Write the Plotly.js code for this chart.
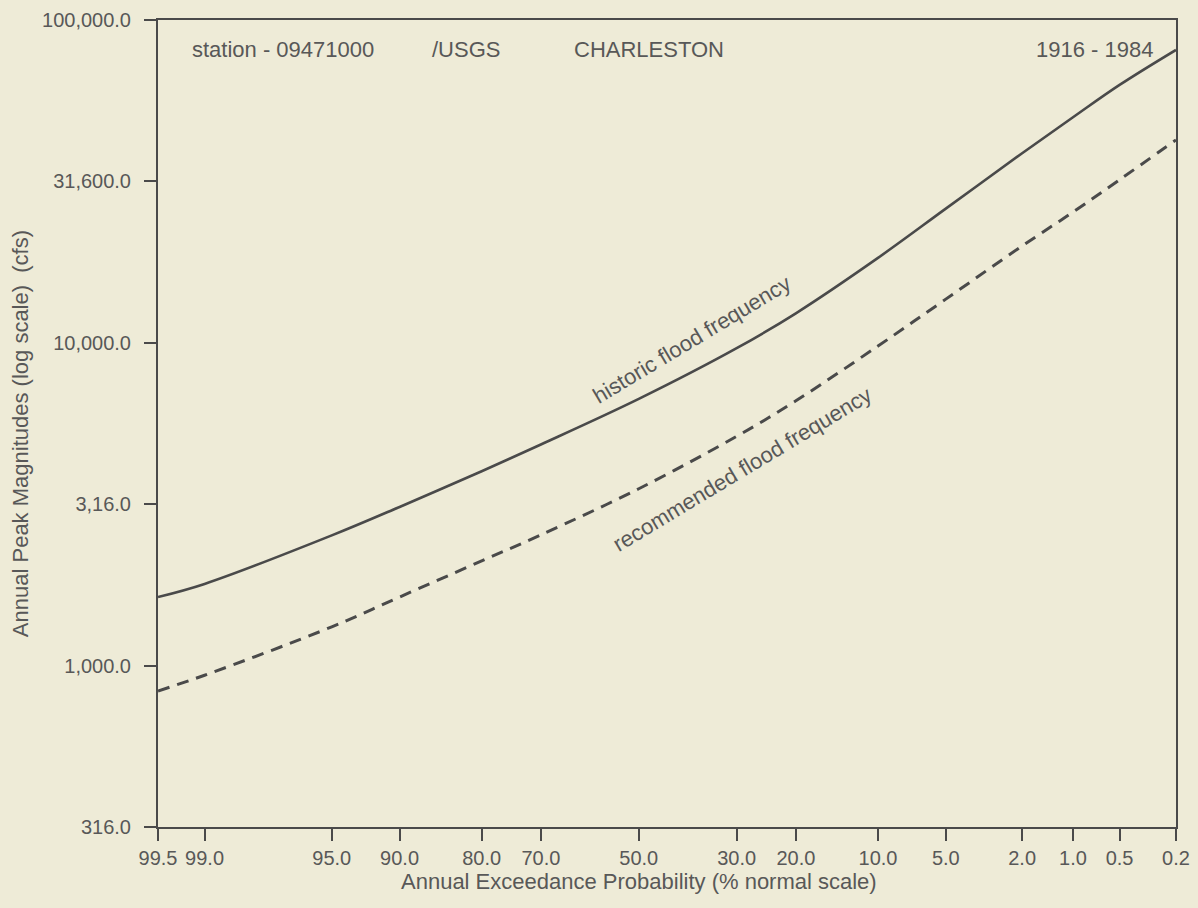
<!DOCTYPE html>
<html>
<head>
<meta charset="utf-8">
<script src="https://cdn.plot.ly/plotly-3.0.1.min.js"></script>
<style>
  html, body { margin: 0; padding: 0; background: #eeebd7; }
  #chart { width: 1198px; height: 908px; }
</style>
</head>
<body>
<div id="chart"></div>
<script>
// ---- Data ----
const exceedanceProbabilities = [99.5, 99.0, 95.0, 90.0, 80.0, 70.0, 50.0, 30.0, 20.0, 10.0, 5.0, 2.0, 1.0, 0.5, 0.2];
const historicPeaks    = [1630, 1790, 2530, 3100, 4000, 4840, 6700, 9620, 12340, 18320, 26030, 38660, 49950, 62930, 80800];
const recommendedPeaks = [834, 933, 1318, 1630, 2110, 2540, 3530, 5130, 6610, 9770, 13650, 19950, 25400, 32000, 42500];

const xTickProbabilities = [99.5, 99.0, 95.0, 90.0, 80.0, 70.0, 50.0, 30.0, 20.0, 10.0, 5.0, 2.0, 1.0, 0.5, 0.2];
const xTickLabels = ['99.5', '99.0', '95.0', '90.0', '80.0', '70.0', '50.0', '30.0', '20.0', '10.0', '5.0', '2.0', '1.0', '0.5', '0.2'];
const yTickValues = [316, 1000, 3160, 10000, 31600, 100000];
const yTickLabels = ['316.0', '1,000.0', '3,16.0', '10,000.0', '31,600.0', '100,000.0'];

// ---- Normal probability scale: exceedance % -> standard normal quantile ----
function normInv(p) {
  const a = [-3.969683028665376e+01, 2.209460984245205e+02, -2.759285104469687e+02, 1.383577518672690e+02, -3.066479806614716e+01, 2.506628277459239e+00];
  const b = [-5.447609879822406e+01, 1.615858368580409e+02, -1.556989798598866e+02, 6.680131188771972e+01, -1.328068155288572e+01];
  const c = [-7.784894002430293e-03, -3.223964580411365e-01, -2.400758277161838e+00, -2.549732539343734e+00, 4.374664141464968e+00, 2.938163982698783e+00];
  const d = [7.784695709041462e-03, 3.224671290700398e-01, 2.445134137142996e+00, 3.754408661907416e+00];
  const pl = 0.02425, ph = 1 - pl;
  let q, r;
  if (p < pl) {
    q = Math.sqrt(-2 * Math.log(p));
    return (((((c[0]*q+c[1])*q+c[2])*q+c[3])*q+c[4])*q+c[5]) / ((((d[0]*q+d[1])*q+d[2])*q+d[3])*q+1);
  } else if (p <= ph) {
    q = p - 0.5; r = q * q;
    return (((((a[0]*r+a[1])*r+a[2])*r+a[3])*r+a[4])*r+a[5])*q / (((((b[0]*r+b[1])*r+b[2])*r+b[3])*r+b[4])*r+1);
  } else {
    q = Math.sqrt(-2 * Math.log(1 - p));
    return -(((((c[0]*q+c[1])*q+c[2])*q+c[3])*q+c[4])*q+c[5]) / ((((d[0]*q+d[1])*q+d[2])*q+d[3])*q+1);
  }
}
const toZ = pct => normInv(1 - pct / 100);

const xData = exceedanceProbabilities.map(toZ);
const xTickVals = xTickProbabilities.map(toZ);

const ink = '#4a4a4a';
const textInk = '#585858';
const family = '"Liberation Sans", Arial, Helvetica, sans-serif';
const font = { family: family, size: 22, color: textInk };
const tickFont = { family: family, size: 20, color: textInk };

const traces = [
  {
    x: xData, y: historicPeaks, type: 'scatter', mode: 'lines', name: 'historic flood frequency',
    line: { color: ink, width: 2.6, shape: 'spline', smoothing: 1 }, hoverinfo: 'skip'
  },
  {
    x: xData, y: recommendedPeaks, type: 'scatter', mode: 'lines', name: 'recommended flood frequency',
    line: { color: ink, width: 3, dash: '12px,8px', shape: 'spline', smoothing: 1 }, hoverinfo: 'skip'
  }
];

const layout = {
  width: 1198, height: 908,
  paper_bgcolor: '#eeebd7', plot_bgcolor: '#eeebd7',
  margin: { l: 158, r: 22, t: 20, b: 81 },
  showlegend: false,
  font: font,
  xaxis: {
    range: [toZ(99.5), toZ(0.2)],
    tickmode: 'array', tickvals: xTickVals, ticktext: xTickLabels,
    ticks: 'outside', ticklen: 12, tickwidth: 2, tickcolor: ink,
    showline: true, linecolor: ink, linewidth: 2, mirror: true,
    showgrid: false, zeroline: false,
    tickfont: tickFont,
    fixedrange: true
  },
  yaxis: {
    type: 'log',
    range: [Math.log10(316), 5],
    tickmode: 'array', tickvals: yTickValues, ticktext: yTickLabels,
    ticks: 'outside', ticklen: 12, tickwidth: 2, tickcolor: ink,
    showline: true, linecolor: ink, linewidth: 2, mirror: true,
    showgrid: false, zeroline: false,
    tickfont: tickFont,
    ticklabelstandoff: 9,
    fixedrange: true
  },
  annotations: [
    { text: 'station - 09471000', xref: 'paper', yref: 'paper', x: 0.031, y: 0.963, xanchor: 'left', yanchor: 'middle', showarrow: false, font: font },
    { text: '/USGS', xref: 'paper', yref: 'paper', x: 0.267, y: 0.963, xanchor: 'left', yanchor: 'middle', showarrow: false, font: font },
    { text: 'CHARLESTON', xref: 'paper', yref: 'paper', x: 0.4067, y: 0.963, xanchor: 'left', yanchor: 'middle', showarrow: false, font: font },
    { text: '1916 - 1984', xref: 'paper', yref: 'paper', x: 0.979, y: 0.963, xanchor: 'right', yanchor: 'middle', showarrow: false, font: font },
    { text: 'historic flood frequency', xref: 'paper', yref: 'paper', x: 0.5246, y: 0.6035, xanchor: 'center', yanchor: 'middle', textangle: -31, showarrow: false, font: font },
    { text: 'recommended flood frequency', xref: 'paper', yref: 'paper', x: 0.5737, y: 0.4424, xanchor: 'center', yanchor: 'middle', textangle: -31, showarrow: false, font: font },
    { text: 'Annual Exceedance Probability (% normal scale)', xref: 'paper', yref: 'paper', x: 0.4725, y: -0.067, xanchor: 'center', yanchor: 'middle', showarrow: false, font: font },
    { text: 'Annual Peak Magnitudes (log scale)  (cfs)', xref: 'paper', yref: 'paper', x: -0.1356, y: 0.488, xanchor: 'center', yanchor: 'middle', textangle: -90, showarrow: false, font: font }
  ]
};

Plotly.newPlot('chart', traces, layout, { displayModeBar: false, staticPlot: true });
</script>
</body>
</html>
